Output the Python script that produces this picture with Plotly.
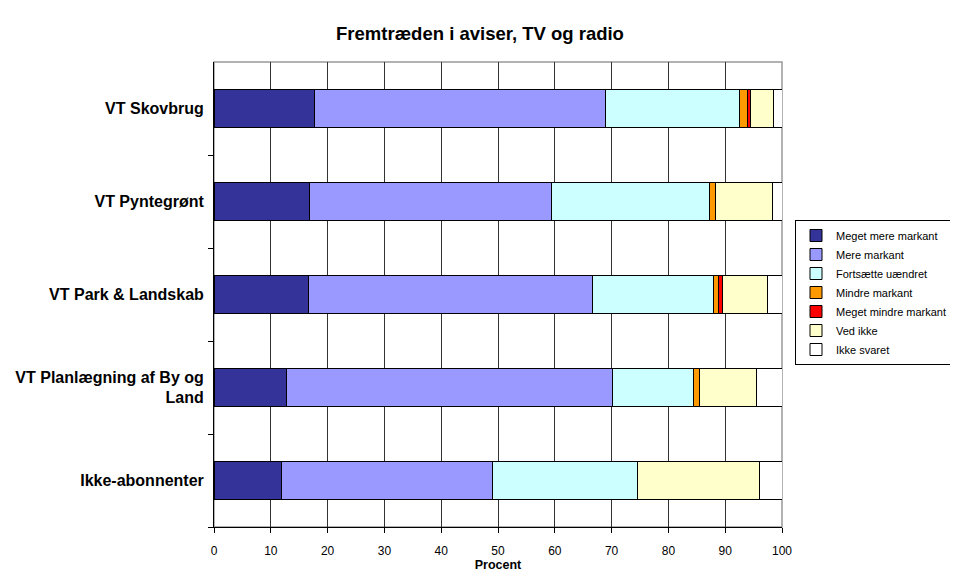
import plotly.graph_objects as go

# kategorier (øverst -> nederst)
categories = [
    "VT Skovbrug",
    "VT Pyntegrønt",
    "VT Park & Landskab",
    "VT Planlægning af By og<br>Land",
    "Ikke-abonnenter",
]

series_names = [
    "Meget mere markant",
    "Mere markant",
    "Fortsætte uændret",
    "Mindre markant",
    "Meget mindre markant",
    "Ved ikke",
    "Ikke svaret",
]

meget_mere = [17.7, 16.8, 16.6, 12.8, 11.9]
mere = [51.2, 42.7, 50.1, 57.3, 37.2]
uaendret = [23.6, 27.7, 21.3, 14.4, 25.5]
mindre = [1.5, 1.1, 0.8, 0.9, 0.0]
meget_mindre = [0.4, 0.0, 0.7, 0.0, 0.0]
ved_ikke = [4.1, 10.0, 8.0, 10.1, 21.5]
ikke_svaret = [1.5, 1.7, 2.5, 4.5, 3.9]

values = [meget_mere, mere, uaendret, mindre, meget_mindre, ved_ikke, ikke_svaret]
colors = ["#333399", "#9999FF", "#CCFFFF", "#FF9900", "#FF0000", "#FFFFCC", "#FFFFFF"]

x_ticks = list(range(0, 101, 10))

fig = go.Figure()
for name, vals, col in zip(series_names, values, colors):
    fig.add_trace(go.Bar(
        y=categories,
        x=vals,
        name=name,
        orientation="h",
        marker=dict(color=col, line=dict(color="black", width=1)),
    ))

# gråt omrids om plotområdet
fig.add_shape(type="rect", xref="paper", yref="paper", x0=0, y0=0, x1=1, y1=1,
              line=dict(color="#999999", width=1.5), layer="below")

# siden har 8px body-margin, derfor er alt flyttet 8px op/venstre
fig.update_layout(
    barmode="stack",
    bargap=0.6,
    width=958,
    height=574,
    margin=dict(l=206, r=184, t=54, b=55, autoexpand=False),
    paper_bgcolor="white",
    plot_bgcolor="white",
    font=dict(family="Liberation Sans, Arial", size=12, color="black"),
    title=dict(
        text="<b>Fremtræden i aviser, TV og radio</b>",
        x=472 / 958, xanchor="center", xref="container",
        y=1 - 26 / 574, yanchor="middle",
        font=dict(size=18.5),
    ),
    xaxis=dict(
        range=[0, 100],
        tickvals=x_ticks,
        showgrid=True,
        gridcolor="#333333",
        gridwidth=1,
        showline=True,
        linecolor="black",
        linewidth=1,
        ticks="outside",
        ticklen=5,
        tickcolor="black",
        tickfont=dict(size=12),
        ticklabelstandoff=8,
        zeroline=False,
        automargin=False,
        title=dict(text="<b>Procent</b>", font=dict(size=12.5), standoff=2),
    ),
    yaxis=dict(
        categoryorder="array",
        categoryarray=categories[::-1],
        tickvals=categories,
        ticktext=["<b>" + c + "</b>" for c in categories],
        showline=True,
        linecolor="black",
        linewidth=1,
        ticks="outside",
        tickson="boundaries",
        ticklen=5,
        tickcolor="black",
        showgrid=False,
        automargin=False,
        tickfont=dict(size=16),
        ticklabelstandoff=6,
    ),
    legend=dict(
        x=(787 - 206) / 568, xanchor="left",
        y=(519 - 212) / 465, yanchor="top",
        bordercolor="black",
        borderwidth=1,
        bgcolor="white",
        font=dict(size=11),
        tracegroupgap=0,
        itemwidth=30,
        traceorder="normal",
    ),
)

fig.write_html("out.html")
